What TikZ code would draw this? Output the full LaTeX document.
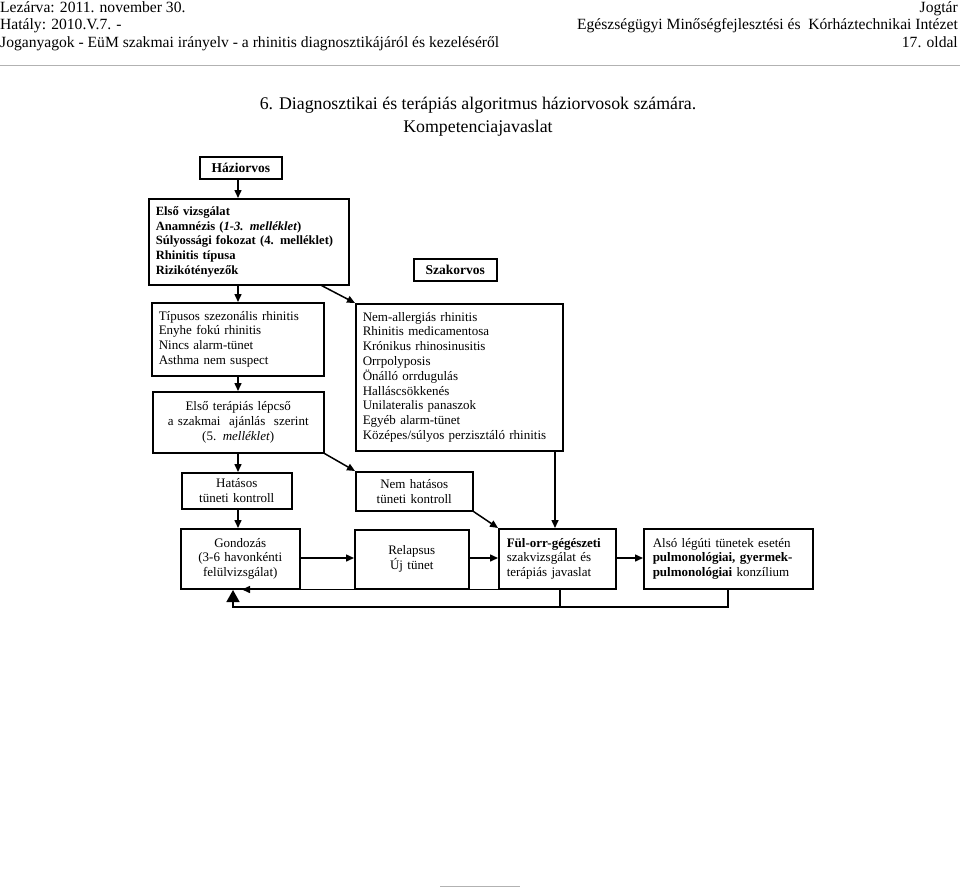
\documentclass[tikz,border=0pt]{standalone}
\usepackage{fontspec}
\setmainfont{Liberation Serif}
\usetikzlibrary{arrows.meta,calc}
\begin{document}
\begin{tikzpicture}[x=1pt,y=-1pt,
  hdr/.style={font=\fontsize{15.6}{17}\selectfont, inner sep=0pt},
  ttl/.style={font=\fontsize{17.8}{20}\selectfont, inner sep=0pt},
  bx/.style={draw, line width=1.5pt, anchor=north west, inner ysep=0pt},
  lbl/.style={bx, font=\fontsize{13.5}{15}\bfseries\selectfont, align=center},
  lst/.style={bx, font=\fontsize{13}{14.8}\selectfont, align=left},
  ctr/.style={bx, font=\fontsize{13}{14.8}\selectfont, align=center},
  arr/.style={line width=1.5pt, -{Triangle[length=8pt,width=7pt]}},
  ln/.style={line width=1.5pt},
  bigarr/.style={line width=1.5pt, -{Triangle[length=12pt,width=13pt]}}
]
\useasboundingbox (0,0) rectangle (960,888);
% header
\node[hdr, anchor=base west] (h1) at (0,13) {Lezárva: 2011. november 30.};
\node[hdr, anchor=base east] (h2) at (958,13) {Jogtár};
\node[hdr, anchor=base west] (h3) at (0,30) {Hatály: 2010.V.7. -};
\node[hdr, anchor=base east] (h4) at (958,30) {Egészségügyi Minőségfejlesztési és\ \ Kórháztechnikai Intézet};
\node[hdr, anchor=base west] (h5) at (0,48) {Joganyagok - EüM szakmai irányelv - a rhinitis diagnosztikájáról és kezeléséről};
\node[hdr, anchor=base east] (h6) at (958,48) {17. oldal};
\draw[gray!60, line width=0.8pt] (0,65) -- (960,65);
% title
\node[ttl, anchor=base] (t1) at (478,110) {6. Diagnosztikai és terápiás algoritmus háziorvosok számára.};
\node[ttl, anchor=base] (t2) at (478,132) {Kompetenciajavaslat};
% boxes
\node[lbl, inner xsep=2pt, text width=78pt, minimum height=22pt] (hazi) at (199,156) {Háziorvos};
\node[lst, inner xsep=7pt, text width=186pt, minimum height=86pt, font=\fontsize{12.6}{14.8}\bfseries\selectfont] (elso) at (148,198)
  {Első vizsgálat\\Anamnézis (\textit{1-3. melléklet})\\Súlyossági fokozat (4. melléklet)\\Rhinitis típusa\\Rizikótényezők};
\node[lbl, inner xsep=2pt, text width=79pt, minimum height=22pt] (szak) at (413,258) {Szakorvos};
\node[lst, inner xsep=7pt, text width=158pt, minimum height=73pt] (tip) at (151,302)
  {Típusos szezonális rhinitis\\Enyhe fokú rhinitis\\Nincs alarm-tünet\\Asthma nem suspect};
\node[lst, inner xsep=7pt, text width=193pt, minimum height=147pt] (nem) at (355,303)
  {Nem-allergiás rhinitis\\Rhinitis medicamentosa\\Krónikus rhinosinusitis\\Orrpolyposis\\Önálló orrdugulás\\Halláscsökkenés\\Unilateralis panaszok\\Egyéb alarm-tünet\\Középes/súlyos perzisztáló rhinitis};
\node[ctr, inner xsep=2pt, text width=167pt, minimum height=61pt] (terap) at (152,391)
  {Első terápiás lépcső\\a szakmai\ \ ajánlás\ \ szerint\\(5. \textit{melléklet})};
\node[ctr, inner xsep=2pt, text width=106pt, minimum height=36pt] (hat) at (181,472)
  {Hatásos\\tüneti kontroll};
\node[ctr, inner xsep=2pt, text width=113pt, minimum height=39pt] (nemhat) at (355,471)
  {Nem hatásos\\tüneti kontroll};
\node[ctr, inner xsep=2pt, text width=115pt, minimum height=60pt] (gond) at (180,528)
  {Gondozás\\(3-6 havonkénti\\felülvizsgálat)};
\node[ctr, inner xsep=2pt, text width=110pt, minimum height=59pt] (rel) at (354,529)
  {Relapsus\\Új tünet};
\node[lst, inner xsep=8pt, text width=101pt, minimum height=60pt] (ful) at (498,528)
  {\textbf{Fül-orr-gégészeti}\\szakvizsgálat és\\terápiás javaslat};
\node[lst, inner xsep=9pt, text width=151pt, minimum height=60pt] (also) at (643,528)
  {Alsó légúti tünetek esetén\\\textbf{pulmonológiai, gyermek-}\\\textbf{pulmonológiai} konzílium};
% helper coordinates
\coordinate (c1) at (238,0);
\coordinate (c2) at (560,607);
\coordinate (c3) at (233,607);
\coordinate (c4) at (242,588);
\coordinate (c5) at (555,0);
% connectors
\draw[arr] (hazi.south -| c1) -- (elso.north -| c1);
\draw[arr] (elso.south -| c1) -- (tip.north -| c1);
\draw[arr] ($(elso.south east)+(-28,0)$) -- (nem.north west);
\draw[arr] (tip.south -| c1) -- (terap.north -| c1);
\draw[arr] (terap.south -| c1) -- (hat.north -| c1);
\draw[arr] (terap.south east) -- (nemhat.north west);
\draw[arr] (hat.south -| c1) -- (gond.north -| c1);
\draw[arr] (nem.south -| c5) -- (ful.north -| c5);
\draw[arr] (nemhat.south east) -- (ful.north west);
\draw[arr] (gond.east |- 0,558) -- (rel.west |- 0,558);
\draw[arr] (rel.east |- 0,558) -- (ful.west |- 0,558);
\draw[arr] (ful.east |- 0,558) -- (also.west |- 0,558);
\draw[arr] (ful.south west) -- (ful.south west -| c4);
\draw[ln] (also.south -| 728,0) |- (c2);
\draw[bigarr] (ful.south -| c2) -- (c2) -- (c3) -- (233,590);
% footer rule
\draw[gray!60, line width=0.8pt] (440,886) -- (520,886);
\end{tikzpicture}
\end{document}
